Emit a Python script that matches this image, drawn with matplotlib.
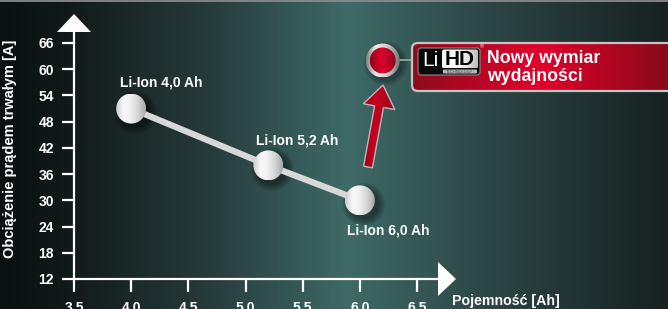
import numpy as np
import matplotlib
matplotlib.use("Agg")
import matplotlib.pyplot as plt
from matplotlib.patches import Circle, FancyBboxPatch, FancyArrow, Polygon
from matplotlib.colors import LinearSegmentedColormap

# values
capacity = [4.0, 5.2, 6.0]          # Ah
current = [51, 38, 30]              # A
point_labels = ['Li-Ion 4,0 Ah', 'Li-Ion 5,2 Ah', 'Li-Ion 6,0 Ah']
lihd_capacity = 6.2
lihd_current = 62
xticks = [3.5, 4.0, 4.5, 5.0, 5.5, 6.0, 6.5]
yticks = [12, 18, 24, 30, 36, 42, 48, 54, 60, 66]

W, H, DPI = 668, 309, 100
L, R, T, B = 74, 417, 43, 279       # plot box in pixels (from top-left)

narrow = ['Liberation Sans Narrow', 'Liberation Sans', 'DejaVu Sans']
sans = ['Liberation Sans', 'DejaVu Sans']

fig = plt.figure(figsize=(W / DPI, H / DPI), dpi=DPI)

# background gradient
bg = fig.add_axes([0, 0, 1, 1], zorder=0)
bg.set_axis_off()
bg_cmap = LinearSegmentedColormap.from_list('bg', [
    (0.0, '#0b1010'), (0.1, '#111a1a'), (0.3, '#253938'),
    (0.52, '#3e6a67'), (0.75, '#2b4342'), (1.0, '#172121')])
bg.imshow(np.linspace(0, 1, 400)[None, :], cmap=bg_cmap, aspect='auto',
          extent=[0, W, H, 0], interpolation='bilinear')
bg.plot([0, W], [0.6, 0.6], color='#8a8a8a', lw=1.3)
bg.set_xlim(0, W)
bg.set_ylim(H, 0)

# data axes
ax = fig.add_axes([L / W, 1 - B / H, (R - L) / W, (B - T) / H], zorder=1)
ax.patch.set_alpha(0)
ax.set_xlim(3.5, 6.5)
ax.set_ylim(12, 66)
for s in ['top', 'right']:
    ax.spines[s].set_visible(False)
for s in ['left', 'bottom']:
    ax.spines[s].set_color('white')
    ax.spines[s].set_linewidth(1.6)
ax.set_xticks(xticks)
ax.set_xticklabels(['%.1f' % v for v in xticks])
ax.set_yticks(yticks)
ax.tick_params(colors='white', length=9, width=1.6, direction='out',
               labelsize=10, labelfontfamily=sans)
ax.tick_params(axis='x', pad=6.5)
ax.tick_params(axis='y', pad=5.5)
for lbl in ax.get_xticklabels() + ax.get_yticklabels():
    lbl.set_fontweight('bold')

ax.set_ylabel('Obciążenie prądem trwałym [A]', color='white', fontsize=10.5,
              fontweight='bold', family=narrow)
ax.yaxis.set_label_coords(-0.166, 0.55)
ax.set_xlabel('Pojemność [Ah]', color='white', fontsize=10.2,
              fontweight='bold', family=narrow, ha='left', va='center')
ax.xaxis.set_label_coords(1.102, -0.094)

# overlay in pixel coordinates
ov = fig.add_axes([0, 0, 1, 1], zorder=3)
ov.set_axis_off()
ov.patch.set_alpha(0)
ov.set_xlim(0, W)
ov.set_ylim(H, 0)


def to_px(x, y):
    return ov.transData.inverted().transform(ax.transData.transform((x, y)))


def gradient_fill(patch, x0, x1, y0, y1, stops, zorder):
    cm = LinearSegmentedColormap.from_list('g', stops)
    img = cm(np.tile(np.linspace(0, 1, 128), (8, 1)))
    im = ov.imshow(img, extent=[x0, x1, y1, y0], aspect='auto',
                   interpolation='bilinear', zorder=zorder)
    patch.set_transform(ov.transData)
    im.set_clip_path(patch)
    return im


# axis extensions and arrow heads
ov.plot([L, L], [T, 32], color='white', lw=1.6, solid_capstyle='butt', zorder=1)
ov.plot([R, 438], [B, B], color='white', lw=1.6, solid_capstyle='butt', zorder=1)
ov.add_patch(Polygon([(57, 32), (74, 14), (91, 32)], closed=True, fc='white', ec='none'))
ov.add_patch(Polygon([(438, 262), (456, 279), (438, 296)], closed=True, fc='white', ec='none'))

# connecting line
ax.plot(capacity, current, color='#d8d8d8', lw=4.5, solid_capstyle='butt', zorder=3)

sphere_stops = [(0, '#cbcbcb'), (0.25, '#f8f8f8'), (0.45, '#f3f3f3'),
                (0.75, '#d3d3d3'), (1, '#a6a6a6')]
r = 15
for x, y, lab, off in zip(capacity, current, point_labels,
                          [(30, 26), (29, 25), (28, -30)]):
    cx, cy = to_px(x, y)
    for k in range(6):
        ax.add_patch(Circle((cx + 4, cy + 4), r + k * 1.3, transform=ov.transData,
                            fc='black', ec='none', alpha=0.08, zorder=2, clip_on=False))
    gradient_fill(Circle((cx, cy), r), cx - r, cx + r, cy - r, cy + r, sphere_stops, 5)
    ax.annotate(lab, (x, y), xytext=off, textcoords='offset pixels', ha='center',
                va='center', color='white', fontsize=10, fontweight='bold', family=sans)

# LiHD marker
hx, hy = to_px(lihd_capacity, lihd_current)
for k in range(5):
    ov.add_patch(Circle((hx + 3, hy + 3), 17 + k * 1.3, fc='black', ec='none',
                        alpha=0.07, zorder=4))
gradient_fill(Circle((hx, hy), 17), hx - 17, hx + 17, hy - 17, hy + 17,
              [(0, '#808080'), (0.3, '#ececec'), (0.6, '#d2d2d2'), (1, '#747474')], 5)
gradient_fill(Circle((hx, hy), 13), hx - 13, hx + 13, hy - 13, hy + 13,
              [(0, '#8a0a1c'), (0.45, '#e2002a'), (1, '#8a0a1c')], 6)
ov.plot([hx + 17, 412], [hy, hy], color='#a8a8a8', lw=1.2, zorder=4)

# red arrow
arr = FancyArrow(368, 167, 15, -82, width=9, head_width=32, head_length=22,
                 length_includes_head=True)
gradient_fill(arr, 352, 400, 85, 167,
              [(0, '#7a0614'), (0.5, '#c8001f'), (1, '#8a0818')], 5)
ov.add_patch(FancyArrow(368, 167, 15, -82, width=9, head_width=32, head_length=22,
                        length_includes_head=True, fc='none', ec='#b8b8b8', lw=1.0,
                        zorder=6))

# callout box
box_kw = dict(boxstyle='round,pad=0,rounding_size=6')
gradient_fill(FancyBboxPatch((412, 43), 300, 48, **box_kw), 412, 712, 43, 91,
              [(0, '#8d0b1d'), (0.42, '#e2002b'), (0.85, '#8a0a1a'), (1, '#7a0816')], 5)
ov.add_patch(FancyBboxPatch((412, 43), 300, 48, fc='none', ec='#c4c4c4', lw=1.6,
                            zorder=6, **box_kw))

# LiHD logo
ov.add_patch(FancyBboxPatch((418, 48), 62, 27, boxstyle='round,pad=0,rounding_size=3',
                            fc='#080808', ec='#8a8a8a', lw=0.8, zorder=7))
gradient_fill(FancyBboxPatch((442, 49.5), 36, 19, boxstyle='round,pad=0,rounding_size=2'),
              442, 478, 49.5, 68.5,
              [(0, '#f4f4f4'), (0.5, '#ffffff'), (1, '#bdbdbd')], 8)
ov.add_patch(FancyBboxPatch((443, 69.5), 34, 4, boxstyle='round,pad=0,rounding_size=1',
                            fc='#b8b8b8', ec='none', zorder=8))
ov.text(430.5, 61, 'Li', color='white', fontsize=15, ha='center', va='center',
        family=sans, zorder=9)
ov.text(460, 59.5, 'HD', color='black', fontsize=15, fontweight='bold', ha='center',
        va='center', family=sans, zorder=9)
ov.text(460, 71.6, 'TECHNOLOGY', color='#333333', fontsize=2.8, ha='center',
        va='center', family=sans, zorder=9)
ov.text(482, 46.5, '®', color='white', fontsize=4, ha='center', va='center',
        family=sans, zorder=9)

ov.text(487, 67.5, 'Nowy wymiar\nwydajności', color='white', fontsize=12.8,
        fontweight='bold', ha='left', va='center', linespacing=1.1, family=sans,
        zorder=9)

ov.set_xlim(0, W)
ov.set_ylim(H, 0)
ax.set_xlim(3.5, 6.5)
ax.set_ylim(12, 66)

fig.savefig('out.png', dpi=DPI)
